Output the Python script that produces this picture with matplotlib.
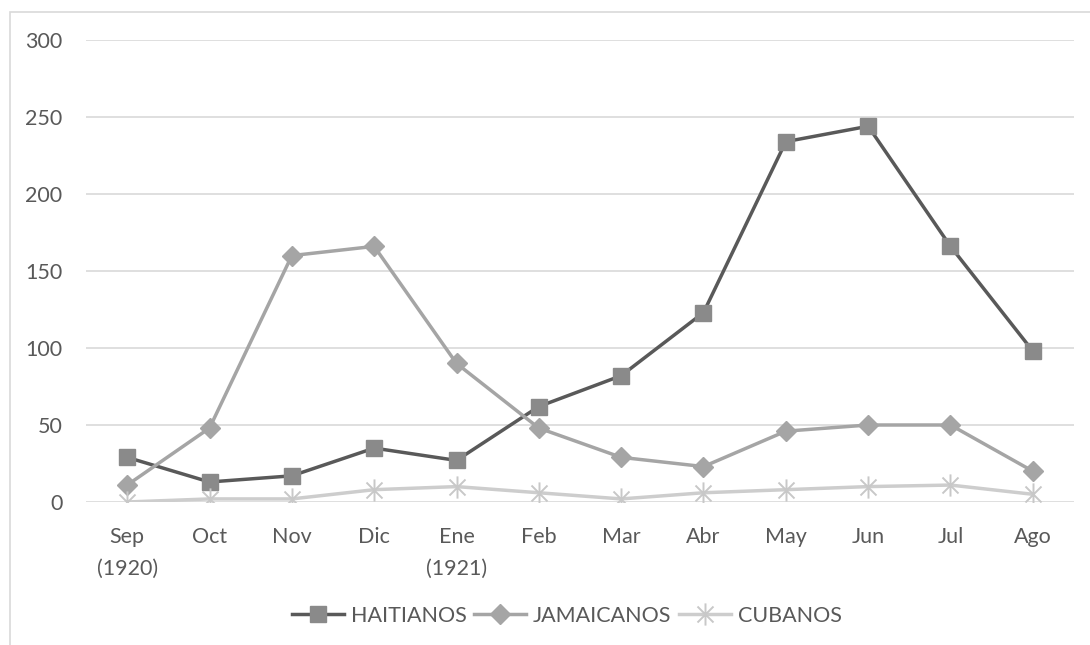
import matplotlib
matplotlib.use("Agg")
import matplotlib.pyplot as plt
from matplotlib.path import Path
from matplotlib.patches import Rectangle

# Monthly arrivals by nationality, Sep 1920 - Aug 1921
months = ["Sep\n(1920)", "Oct", "Nov", "Dic", "Ene\n(1921)", "Feb",
          "Mar", "Abr", "May", "Jun", "Jul", "Ago"]
haitianos = [29, 13, 17, 35, 27, 62, 82, 123, 234, 244, 166, 98]
jamaicanos = [11, 48, 160, 166, 90, 48, 29, 23, 46, 50, 50, 20]
cubanos = [0, 2, 2, 8, 10, 6, 2, 6, 8, 10, 11, 5]
y_ticks = [0, 50, 100, 150, 200, 250, 300]

plt.rcParams["font.family"] = ["Lato", "DejaVu Sans"]
text_color = "#595959"
fs = 15.5

fig = plt.figure(figsize=(10.9, 6.45), dpi=100)
W, H = 1090, 645

# light chart frame
fig.patches.append(Rectangle((10 / W, -0.1), 1.2, 1 - 12 / H + 0.1,
                             transform=fig.transFigure, fill=False,
                             edgecolor="#d9d9d9", linewidth=1.2))

ax = fig.add_axes([86 / W, 1 - 502 / H, 988 / W, 462 / H])
x = list(range(len(months)))

# asterisk marker: vertical bar plus an X
star = Path([(0, -1), (0, 1), (-0.72, -0.72), (0.72, 0.72),
             (-0.72, 0.72), (0.72, -0.72)],
            [Path.MOVETO, Path.LINETO, Path.MOVETO, Path.LINETO,
             Path.MOVETO, Path.LINETO])

ax.plot(x, haitianos, color="#595959", linewidth=2.5, marker="s",
        markersize=12, markerfacecolor="#8a8a8a", markeredgecolor="#8a8a8a",
        label="HAITIANOS", zorder=3)
ax.plot(x, jamaicanos, color="#a5a5a5", linewidth=2.5, marker="D",
        markersize=10.5, markerfacecolor="#a5a5a5", markeredgecolor="#a5a5a5",
        label="JAMAICANOS", zorder=3)
ax.plot(x, cubanos, color="#cdcdcd", linewidth=2.5, marker=star,
        markersize=16, markeredgewidth=1.4, markeredgecolor="#c8c8c8",
        label="CUBANOS", zorder=3)

ax.set_xlim(-0.5, len(months) - 0.5)
ax.set_ylim(0, 300)
ax.set_yticks(y_ticks)
ax.set_xticks(x)
ax.set_xticklabels(months, linespacing=1.75)
ax.yaxis.grid(True, color="#d9d9d9", linewidth=1.2)
ax.set_axisbelow(True)
for s in ax.spines.values():
    s.set_visible(False)
ax.tick_params(axis="both", length=0, labelsize=fs, labelcolor=text_color)
ax.tick_params(axis="y", pad=17)
ax.tick_params(axis="x", pad=18)

leg = fig.legend(loc="center", bbox_to_anchor=(567 / W, 1 - 616 / H), ncol=3,
                 frameon=False, fontsize=fs, handlelength=2.4,
                 columnspacing=0.37, handletextpad=0.33)
for t in leg.get_texts():
    t.set_color(text_color)

fig.savefig("out.png", dpi=100, facecolor="white")
